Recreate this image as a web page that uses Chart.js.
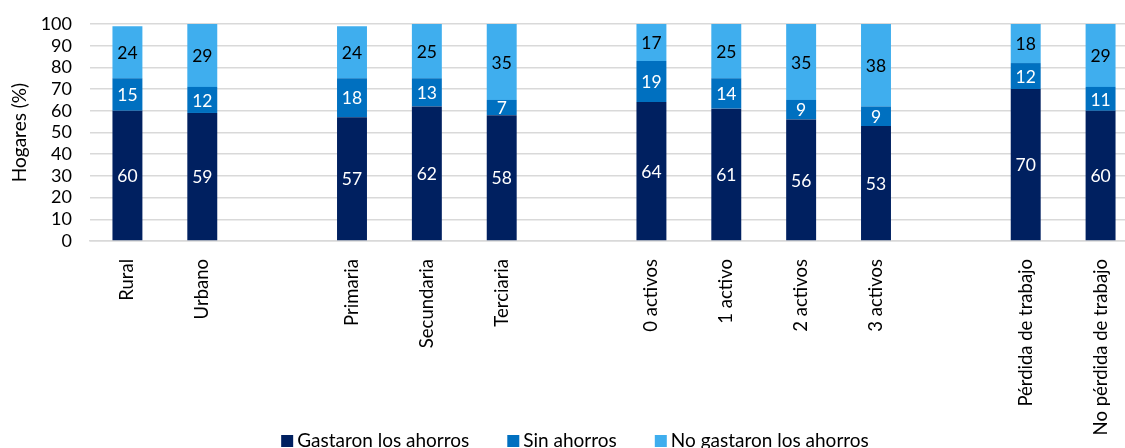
<!DOCTYPE html>
<html>
<head>
<meta charset="utf-8">
<script src="https://cdn.jsdelivr.net/npm/chart.js@4"></script>
<style>
  html, body { margin: 0; padding: 0; overflow: hidden; background: #fff; }
  #wrap { width: 1150px; height: 448px; }
</style>
</head>
<body>
<div id="wrap"><canvas id="chart"></canvas></div>
<script>
// categories ('' = empty slot between groups)
const categories = ['Rural', 'Urbano', '', 'Primaria', 'Secundaria', 'Terciaria', '',
  '0 activos', '1 activo', '2 activos', '3 activos', '', 'Pérdida de trabajo', 'No pérdida de trabajo'];

const gastaron   = [60, 59, null, 57, 62, 58, null, 64, 61, 56, 53, null, 70, 60];
const sinAhorros = [15, 12, null, 18, 13, 7, null, 19, 14, 9, 9, null, 12, 11];
const noGastaron = [24, 29, null, 24, 25, 35, null, 17, 25, 35, 38, null, 18, 29];

const yTicks = [0, 10, 20, 30, 40, 50, 60, 70, 80, 90, 100];

const FONT = 'Lato, "Liberation Sans", sans-serif';

// in-bar value labels
const valueLabels = {
  id: 'valueLabels',
  afterDatasetsDraw(chart) {
    const ctx = chart.ctx;
    ctx.save();
    ctx.font = '17.5px ' + FONT;
    ctx.textAlign = 'center';
    ctx.textBaseline = 'middle';
    chart.data.datasets.forEach((ds, i) => {
      const meta = chart.getDatasetMeta(i);
      meta.data.forEach((bar, j) => {
        const v = ds.data[j];
        if (v == null) return;
        ctx.fillStyle = ds.labelColor;
        ctx.fillText(String(v), bar.x, (bar.y + bar.base) / 2 + 1);
      });
    });
    ctx.restore();
  }
};

// legend drawn at the very bottom, overlapping the rotated-label band
const bottomLegend = {
  id: 'bottomLegend',
  afterDraw(chart) {
    const ctx = chart.ctx;
    const box = 12, gapText = 4, gapItem = 38, baseline = 447;
    ctx.save();
    ctx.font = '19px ' + FONT;
    ctx.textBaseline = 'alphabetic';
    const items = chart.data.datasets.map(ds => ({ text: ds.label, color: ds.backgroundColor, w: ctx.measureText(ds.label).width }));
    let total = 0;
    items.forEach((it, i) => { total += box + gapText + it.w + (i ? gapItem : 0); });
    let x = chart.width / 2 - total / 2;
    items.forEach(it => {
      ctx.fillStyle = it.color;
      ctx.fillRect(x, baseline - box, box, box);
      x += box + gapText;
      ctx.fillStyle = '#000';
      ctx.fillText(it.text, x, baseline);
      x += it.w + gapItem;
    });
    ctx.restore();
  }
};

new Chart(document.getElementById('chart'), {
  type: 'bar',
  data: {
    labels: categories,
    datasets: [
      { label: 'Gastaron los ahorros', data: gastaron, backgroundColor: '#002060', labelColor: '#ffffff' },
      { label: 'Sin ahorros', data: sinAhorros, backgroundColor: '#0070C0', labelColor: '#ffffff' },
      { label: 'No gastaron los ahorros', data: noGastaron, backgroundColor: '#3FAEEE', labelColor: '#000000' }
    ]
  },
  options: {
    animation: false,
    responsive: true,
    maintainAspectRatio: false,
    datasets: { bar: { categoryPercentage: 1, barPercentage: 0.4 } },
    layout: { padding: { top: 24, right: 12, bottom: 0, left: 0 } },
    plugins: {
      tooltip: { enabled: false },
      legend: { display: false }
    },
    scales: {
      x: {
        stacked: true,
        grid: { display: false },
        border: { display: true, color: '#d9d9d9', width: 1.5 },
        ticks: {
          color: '#000',
          font: { family: FONT, size: 18.5 },
          minRotation: 90,
          maxRotation: 90,
          autoSkip: false,
          padding: 10
        },
        afterFit(scale) { scale.height = 207; }
      },
      y: {
        stacked: true,
        min: 0,
        max: 100,
        afterBuildTicks(scale) { scale.ticks = yTicks.map(v => ({ value: v })); },
        grid: { color: '#d9d9d9', lineWidth: 1.5, drawTicks: false },
        border: { display: false },
        ticks: {
          color: '#000',
          font: { family: FONT, size: 18 },
          autoSkip: false,
          padding: 18
        },
        title: {
          display: true,
          text: 'Hogares (%)',
          color: '#000',
          font: { family: FONT, size: 19 },
          padding: { top: 8, bottom: 2 }
        },
        afterFit(scale) { scale.width = 90; scale.paddingTop = 0; scale.paddingBottom = 0; }
      }
    }
  },
  plugins: [valueLabels, bottomLegend]
});
</script>
</body>
</html>
